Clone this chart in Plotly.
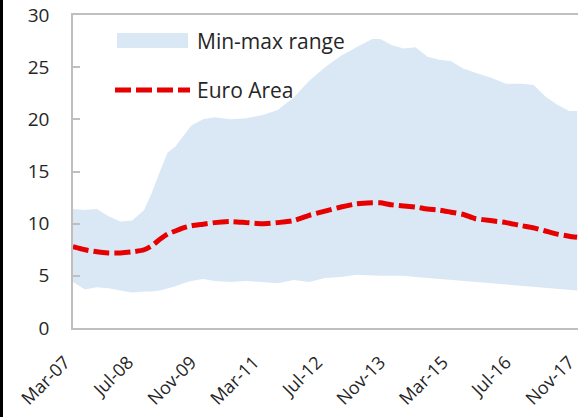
import plotly.graph_objects as go

dates = ["2007-03-01", "2007-06-01", "2007-09-01", "2007-12-01", "2008-03-01", "2008-06-01",
         "2008-09-01", "2008-11-01", "2009-01-01", "2009-03-01", "2009-05-01", "2009-07-01",
         "2009-09-01", "2009-12-01", "2010-03-01", "2010-07-01", "2010-11-01", "2011-03-01",
         "2011-07-01", "2011-11-01", "2012-03-01", "2012-07-01", "2012-11-01", "2013-03-01",
         "2013-07-01", "2013-09-01", "2013-12-01", "2014-03-01", "2014-06-01", "2014-09-01",
         "2014-12-01", "2015-03-01", "2015-06-01", "2015-09-01", "2016-01-01", "2016-05-01",
         "2016-09-01", "2016-12-01", "2017-03-01", "2017-06-01", "2017-09-01", "2017-11-01"]

range_max = [11.4, 11.3, 11.4, 10.7, 10.2, 10.3, 11.3, 13.0, 15.0, 16.8, 17.4, 18.4,
             19.4, 20.0, 20.2, 20.0, 20.1, 20.4, 20.9, 22.1, 23.7, 25.0, 26.1, 26.9,
             27.7, 27.7, 27.1, 26.8, 26.9, 26.0, 25.7, 25.6, 24.9, 24.5, 24.0, 23.4,
             23.4, 23.3, 22.2, 21.4, 20.8, 20.8]

range_min = [4.4, 3.7, 3.9, 3.8, 3.6, 3.4, 3.5, 3.5, 3.6, 3.8, 4.0, 4.3,
             4.5, 4.7, 4.5, 4.4, 4.5, 4.4, 4.3, 4.6, 4.4, 4.8, 4.9, 5.1,
             5.0, 5.0, 5.0, 5.0, 4.9, 4.8, 4.7, 4.6, 4.5, 4.4, 4.3, 4.2,
             4.0, 3.9, 3.8, 3.7, 3.6, 3.6]

euro_area = [7.8, 7.5, 7.3, 7.2, 7.2, 7.3, 7.5, 7.9, 8.5, 9.0, 9.3, 9.6,
             9.8, 9.95, 10.1, 10.2, 10.1, 10.0, 10.1, 10.3, 10.8, 11.2, 11.6, 11.9,
             12.0, 12.0, 11.8, 11.7, 11.6, 11.4, 11.3, 11.1, 10.9, 10.5, 10.3, 10.1,
             9.8, 9.6, 9.3, 9.0, 8.8, 8.7]

tick_dates = ["2007-03-01", "2008-07-01", "2009-11-01", "2011-03-01", "2012-07-01",
              "2013-11-01", "2015-03-01", "2016-07-01", "2017-11-01"]
tick_labels = ["Mar-07", "Jul-08", "Nov-09", "Mar-11", "Jul-12", "Nov-13", "Mar-15", "Jul-16", "Nov-17"]

FILL = "rgb(218,232,245)"
RED = "rgb(230,0,0)"
FONT = "Open Sans"
TXT = "#262626"
AX = "#bfbfbf"

fig = go.Figure()
fig.add_trace(go.Scatter(x=dates, y=range_min, mode="lines", line=dict(width=0),
                         showlegend=False, hoverinfo="skip"))
fig.add_trace(go.Scatter(x=dates, y=range_max, mode="lines", line=dict(width=0),
                         fill="tonexty", fillcolor=FILL, name="Min-max range", showlegend=False))
fig.add_trace(go.Scatter(x=dates, y=euro_area, mode="lines", name="Euro Area",
                         line=dict(color=RED, width=5, dash="16px,5px", shape="spline", smoothing=0.6),
                         showlegend=False))

# plot area in pixels: x 73..578, y 15..328
L, R, T, B = 73, 578, 15, 328
def px(x):
    return (x - L) / (R - L)
def py(y):
    return (B - y) / (B - T)

shapes = [
    dict(type="rect", xref="paper", yref="paper", x0=px(117), x1=px(188), y0=py(48), y1=py(33),
         fillcolor=FILL, line=dict(width=0)),
    dict(type="line", xref="paper", yref="paper", x0=px(115), x1=px(190), y0=py(90), y1=py(90),
         line=dict(color=RED, width=5, dash="16px,5px")),
]
annotations = [
    dict(xref="paper", yref="paper", x=px(195), y=py(41), text="Min-max range", showarrow=False,
         xanchor="left", yanchor="middle", font=dict(family=FONT, size=21, color=TXT)),
    dict(xref="paper", yref="paper", x=px(195), y=py(90), text="Euro Area", showarrow=False,
         xanchor="left", yanchor="middle", font=dict(family=FONT, size=21, color=TXT)),
]

fig.update_layout(
    width=578, height=417,
    margin=dict(l=L, r=578 - R, t=T, b=417 - B, autoexpand=False),
    paper_bgcolor="white", plot_bgcolor="white",
    font=dict(family=FONT, size=19, color=TXT),
    shapes=shapes, annotations=annotations,
    showlegend=False,
    xaxis=dict(type="date", range=["2007-03-01", "2017-11-08"], tickvals=tick_dates, ticktext=tick_labels,
               tickangle=-45, showgrid=False, zeroline=False, showline=True, linecolor=AX, linewidth=1.5,
               mirror=True, ticks="", ticklabelstandoff=15, ticklabelshift=-8, automargin=False,
               ticklabeloverflow="allow", tickfont=dict(size=18, color=TXT)),
    yaxis=dict(range=[0, 30], tickvals=[0, 5, 10, 15, 20, 25, 30], showgrid=False, zeroline=False,
               showline=True, linecolor=AX, linewidth=1.5, ticks="inside", ticklen=7, tickcolor=AX,
               tickwidth=1.5, ticklabelstandoff=18, automargin=False, ticklabeloverflow="allow",
               tickfont=dict(size=19, color=TXT)),
)

post = ("document.body.style.margin='0';document.body.style.overflow='hidden';"
        "var b=document.createElement('div');"
        "b.style.cssText='position:fixed;left:0;top:0;width:3px;height:100%;background:#000;z-index:10';"
        "document.body.appendChild(b);")
fig.write_html("out.html", config={"displayModeBar": False}, post_script=post)
